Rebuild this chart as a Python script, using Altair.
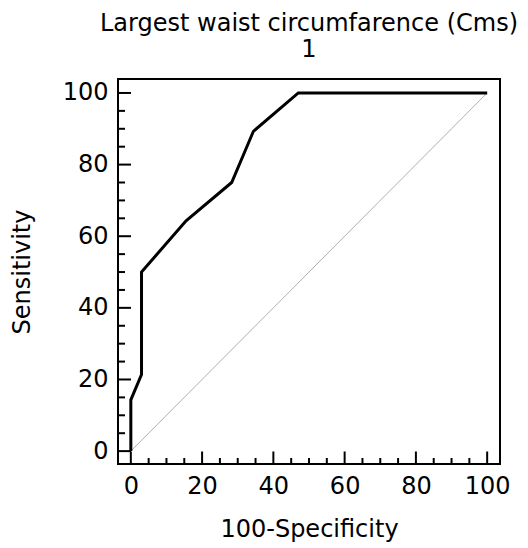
import altair as alt
import pandas as pd

# ROC curve
fpr = [0, 0, 3, 3, 15.5, 28.3, 34.4, 47, 100]
tpr = [0, 14.3, 21.4, 50, 64.3, 75, 89.3, 100, 100]
diag_x = [0, 100]
diag_y = [0, 100]
major_ticks = [0, 20, 40, 60, 80, 100]
minor_ticks = [5, 10, 15, 25, 30, 35, 45, 50, 55, 65, 70, 75, 85, 90, 95]

W, H = 382, 385
FONT = "DejaVu Sans"

df_curve = pd.DataFrame({"fpr": fpr, "tpr": tpr, "i": list(range(len(fpr)))})
df_diag = pd.DataFrame({"fpr": diag_x, "tpr": diag_y})
df_major = pd.DataFrame({"v": major_ticks})
df_minor = pd.DataFrame({"v": minor_ticks})

xs = alt.Scale(domain=[-3.6, 103.6], nice=False, zero=False)
ys = alt.Scale(domain=[-3.6, 103.9], nice=False, zero=False)

x_axis = alt.Axis(values=major_ticks, ticks=False, domain=False, grid=False,
                  labelFont=FONT, labelFontSize=24, labelColor="black", labelPadding=10,
                  titleFont=FONT, titleFontSize=24, titleFontWeight="normal", titleColor="black",
                  titlePadding=19, labelFlush=False)
y_axis = alt.Axis(values=major_ticks, ticks=False, domain=False, grid=False,
                  labelFont=FONT, labelFontSize=24, labelColor="black", labelPadding=10,
                  titleFont=FONT, titleFontSize=24, titleFontWeight="normal", titleColor="black",
                  titlePadding=28, labelFlush=False)

XT = "100-Specificity"
YT = "Sensitivity"

diag = alt.Chart(df_diag).mark_line(color="#9a9a9a", strokeWidth=0.8).encode(
    x=alt.X("fpr:Q", scale=xs, axis=x_axis, title=XT),
    y=alt.Y("tpr:Q", scale=ys, axis=y_axis, title=YT),
)

curve = alt.Chart(df_curve).mark_line(color="black", strokeWidth=3).encode(
    x=alt.X("fpr:Q", scale=xs, axis=x_axis, title=XT),
    y=alt.Y("tpr:Q", scale=ys, axis=y_axis, title=YT),
    order="i:O",
)

xt_major = alt.Chart(df_major).mark_rule(color="black", strokeWidth=2).encode(
    x=alt.X("v:Q", scale=xs, axis=x_axis, title=XT), y=alt.value(H), y2=alt.value(H - 12.5))
xt_minor = alt.Chart(df_minor).mark_rule(color="black", strokeWidth=2).encode(
    x=alt.X("v:Q", scale=xs, axis=x_axis, title=XT), y=alt.value(H), y2=alt.value(H - 6))
yt_major = alt.Chart(df_major).mark_rule(color="black", strokeWidth=2).encode(
    y=alt.Y("v:Q", scale=ys, axis=y_axis, title=YT), x=alt.value(0), x2=alt.value(13))
yt_minor = alt.Chart(df_minor).mark_rule(color="black", strokeWidth=2).encode(
    y=alt.Y("v:Q", scale=ys, axis=y_axis, title=YT), x=alt.value(0), x2=alt.value(7))

chart = alt.layer(diag, curve, xt_major, xt_minor, yt_major, yt_minor).properties(
    width=W, height=H,
    background="white",
    title=alt.TitleParams(["Largest waist circumfarence (Cms)", "1"], font=FONT, fontSize=24,
                          fontWeight="normal", color="black", anchor="middle",
                          lineHeight=26, offset=17),
    autosize=alt.AutoSizeParams(type="none"),
    padding={"left": 110, "top": 71, "right": 20, "bottom": 82},
).configure_view(stroke="black", strokeWidth=2)

chart.save("out.html", embed_options={"renderer": "svg", "actions": False})
